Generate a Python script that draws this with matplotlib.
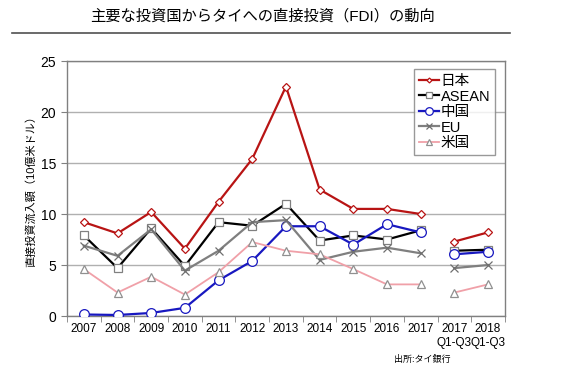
import numpy as np
import matplotlib
matplotlib.use("Agg")
import matplotlib.pyplot as plt
from matplotlib.lines import Line2D

plt.rcParams['font.family'] = ['Liberation Sans', 'Noto Sans CJK JP', 'DejaVu Sans']

categories = ["2007", "2008", "2009", "2010", "2011", "2012", "2013", "2014",
              "2015", "2016", "2017", "2017\nQ1-Q3", "2018\nQ1-Q3"]
nan = np.nan
japan = [9.2, 8.1, 10.2, 6.6, 11.2, 15.4, 22.5, 12.4, 10.5, 10.5, 10.0, nan, 7.3, 8.2]
asean = [7.9, 4.7, 8.6, 4.9, 9.2, 8.85, 11.0, 7.4, 7.9, 7.5, 8.4, nan, 6.4, 6.5]
china = [0.15, 0.1, 0.3, 0.8, 3.5, 5.4, 8.8, 8.8, 7.0, 9.0, 8.2, nan, 6.05, 6.3]
eu = [6.9, 5.9, 8.5, 4.45, 6.4, 9.2, 9.4, 5.5, 6.3, 6.7, 6.15, nan, 4.7, 5.0]
usa = [4.6, 2.3, 3.85, 2.1, 4.3, 7.25, 6.4, 6.05, 4.6, 3.1, 3.1, nan, 2.3, 3.1]

# NaN at 10.5 breaks the line between 2017 and 2017 Q1-Q3
xpos = list(range(11)) + [10.5, 11, 12]

fig = plt.figure(figsize=(5.8, 3.72), dpi=100)
ax = fig.add_axes([0.1155, 0.1505, 0.755, 0.6855])

series = [
    ("日本", japan, "#B81414", "D", 4, 1.6, "#B81414"),
    ("ASEAN", asean, "#000000", "s", 6, 1.6, "#808080"),
    ("中国", china, "#1818C0", "o", 7, 1.6, "#1818C0"),
    ("EU", eu, "#7F7F7F", "x", 6, 1.6, "#6F6F6F"),
    ("米国", usa, "#F0A0A8", "^", 6, 1.3, "#909090"),
]

handles = []
for name, vals, col, mk, ms, lw, edge in series:
    ax.plot(xpos, vals, color=col, lw=lw, marker=mk, ms=ms,
            markerfacecolor="white", markeredgecolor=edge,
            markeredgewidth=0.9, zorder=3)
    handles.append(Line2D([], [], color=col, lw=lw, marker=mk, ms=ms - 1.5,
                          markerfacecolor="white", markeredgecolor=edge,
                          markeredgewidth=0.9))

ax.set_xticks(range(13))
ax.set_xticklabels(categories, fontsize=8.5)
ax.set_xlim(-0.5, 12.5)
ax.set_xticks(np.arange(-0.5, 12.6, 1), minor=True)
ax.tick_params(axis="x", which="major", length=0, pad=5)
ax.tick_params(axis="x", which="minor", length=4, direction="out", color="#808080")

ax.set_ylim(0, 25)
ax.set_yticks([0, 5, 10, 15, 20, 25])
ax.tick_params(axis="y", labelsize=10, length=4, color="#808080", pad=4)
ax.yaxis.grid(True, color="#B0B0B0", lw=1)
ax.set_axisbelow(True)
for s in ax.spines.values():
    s.set_color("#808080")
    s.set_linewidth(1)

ax.set_ylabel("直接投資流入額（10億米ドル）", fontsize=8, labelpad=3)

leg = ax.legend(handles, [s[0] for s in series], loc="upper right",
                bbox_to_anchor=(0.985, 0.98), fontsize=10.5, frameon=True,
                fancybox=False, edgecolor="#808080", handlelength=1.4,
                handletextpad=0.1, labelspacing=0.1, borderpad=0.35,
                borderaxespad=0.2)
leg.get_frame().set_linewidth(1)

fig.text(0.452, 0.955, "主要な投資国からタイへの直接投資（FDI）の動向",
         ha="center", va="center", fontsize=11)
fig.add_artist(Line2D([0.02, 0.88], [0.91, 0.91], color="#505050", lw=1.2,
                      transform=fig.transFigure))
fig.text(0.68, 0.035, "出所:タイ銀行", ha="left", va="center", fontsize=6.5)

fig.savefig("out.png", dpi=100)
